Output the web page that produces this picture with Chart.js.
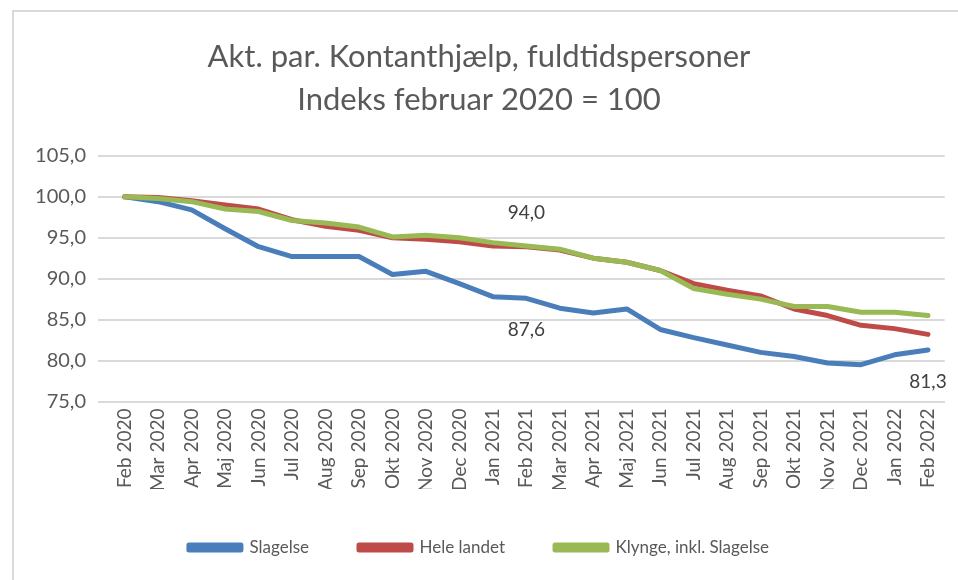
<!DOCTYPE html>
<html>
<head>
<meta charset="utf-8">
<script src="https://cdn.jsdelivr.net/npm/chart.js@4.4.0/dist/chart.umd.min.js"></script>
<style>
  html, body { margin: 0; padding: 0; background: #fff; overflow: hidden; }
  #frame { position: absolute; left: 12px; top: 10px; width: 1000px; height: 620px; border: 2px solid #d9d9d9; }
  #wrap { position: absolute; left: 0; top: 0; width: 958px; height: 580px; }
</style>
</head>
<body>
<div id="frame"></div>
<div id="wrap"><canvas id="chart" width="958" height="580"></canvas></div>
<script>
// Categories (months)
const months = ['Feb 2020', 'Mar 2020', 'Apr 2020', 'Maj 2020', 'Jun 2020', 'Jul 2020', 'Aug 2020', 'Sep 2020',
    'Okt 2020', 'Nov 2020', 'Dec 2020', 'Jan 2021', 'Feb 2021', 'Mar 2021', 'Apr 2021', 'Maj 2021', 'Jun 2021',
    'Jul 2021', 'Aug 2021', 'Sep 2021', 'Okt 2021', 'Nov 2021', 'Dec 2021', 'Jan 2022', 'Feb 2022'];

// Series values
const slagelse = [100.0, 99.4, 98.4, 96.1, 93.9, 92.7, 92.7, 92.7, 90.5, 90.9, 89.4, 87.8, 87.6, 86.4, 85.8, 86.3,
    83.8, 82.8, 81.9, 81.0, 80.5, 79.7, 79.5, 80.7, 81.3];
const heleLandet = [100.0, 99.9, 99.5, 99.0, 98.5, 97.2, 96.4, 95.9, 95.0, 94.8, 94.5, 94.0, 93.9, 93.5, 92.5, 92.0,
    91.0, 89.4, 88.6, 87.9, 86.3, 85.5, 84.3, 83.9, 83.2];
const klynge = [100.0, 99.8, 99.4, 98.5, 98.2, 97.1, 96.8, 96.3, 95.1, 95.3, 95.0, 94.4, 94.0, 93.6, 92.5, 92.0,
    91.0, 88.8, 88.1, 87.5, 86.6, 86.6, 85.9, 85.9, 85.5];

// Y tick labels
const yTicks = [75, 80, 85, 90, 95, 100, 105];

// Which points get a value label: [dataset, index, position]
const pointLabels = [[2, 12, 'above'], [0, 12, 'below'], [0, 24, 'below']];

const fmt = v => v.toFixed(1).replace('.', ',');
const textColor = '#595959';
const fontFamily = 'Lato, "Open Sans", sans-serif';

const valueLabels = {
    id: 'valueLabels',
    afterDatasetsDraw(chart) {
        const ctx = chart.ctx;
        ctx.save();
        ctx.font = '19px ' + fontFamily;
        ctx.fillStyle = '#404040';
        ctx.textAlign = 'center';
        ctx.textBaseline = 'middle';
        pointLabels.forEach(([ds, i, pos]) => {
            const pt = chart.getDatasetMeta(ds).data[i];
            const v = chart.data.datasets[ds].data[i];
            const y = pos === 'above' ? pt.y - 33 : pt.y + 32;
            ctx.fillText(fmt(v), pt.x, y);
        });
        ctx.restore();
    }
};

new Chart(document.getElementById('chart'), {
    type: 'line',
    data: {
        labels: months,
        datasets: [
            { label: 'Slagelse', data: slagelse, borderColor: '#4a7ebb', backgroundColor: '#4a7ebb', order: 3 },
            { label: 'Hele landet', data: heleLandet, borderColor: '#be4b48', backgroundColor: '#be4b48', order: 2 },
            { label: 'Klynge, inkl. Slagelse', data: klynge, borderColor: '#98b954', backgroundColor: '#98b954', order: 1 }
        ]
    },
    options: {
        responsive: false,
        animation: false,
        devicePixelRatio: 1,
        layout: { padding: { left: 12, right: 12, top: 0, bottom: 14 } },
        elements: {
            line: { borderWidth: 5, tension: 0, borderCapStyle: 'round', borderJoinStyle: 'round' },
            point: { radius: 0 }
        },
        plugins: {
            title: {
                display: true,
                text: ['Akt. par. Kontanthjælp, fuldtidspersoner', 'Indeks februar 2020 = 100'],
                color: textColor,
                font: { family: fontFamily, size: 31, weight: 'normal', lineHeight: 1.4 },
                padding: { top: 35, bottom: 34 }
            },
            legend: {
                position: 'bottom',
                labels: {
                    color: textColor,
                    font: { family: fontFamily, size: 17 },
                    boxWidth: 52,
                    boxHeight: 5,
                    padding: 50,
                    sort: (a, b) => a.datasetIndex - b.datasetIndex
                }
            },
            tooltip: { enabled: false }
        },
        scales: {
            x: {
                offset: true,
                grid: { display: false, drawTicks: false },
                border: { color: '#d9d9d9', width: 2 },
                afterFit: s => { s.height = s.height - 10; },
                ticks: {
                    color: textColor,
                    font: { family: fontFamily, size: 19 },
                    minRotation: 90,
                    maxRotation: 90,
                    autoSkip: false,
                    padding: 7
                }
            },
            y: {
                min: 75,
                max: 105,
                afterBuildTicks: s => { s.ticks = yTicks.map(v => ({ value: v })); },
                afterFit: s => { s.width = 96; },
                grid: { color: '#d9d9d9', lineWidth: 2, tickLength: 10, tickColor: '#d9d9d9' },
                border: { display: false },
                ticks: {
                    color: textColor,
                    font: { family: fontFamily, size: 20 },
                    padding: 12,
                    callback: v => fmt(v)
                }
            }
        }
    },
    plugins: [valueLabels]
});
</script>
</body>
</html>
